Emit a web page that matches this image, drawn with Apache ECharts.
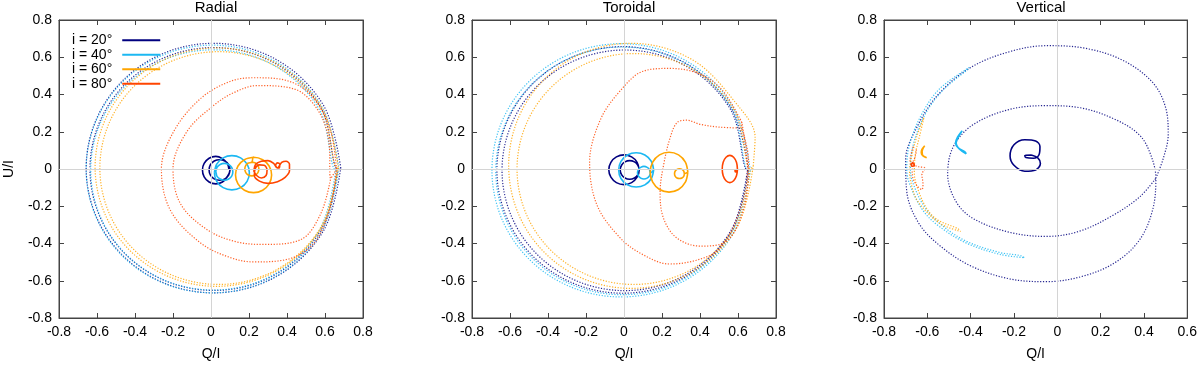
<!DOCTYPE html>
<html>
<head>
<meta charset="utf-8">
<script src="https://cdn.jsdelivr.net/npm/echarts@6/dist/echarts.min.js"></script>
<style>
  html, body { margin: 0; padding: 0; background: #fff; }
  #main { width: 1200px; height: 366px; }
</style>
</head>
<body>
<div id="main"></div>
<script>
var panelTitles = ['Radial', 'Toroidal', 'Vertical'];
var legendNames = ['i = 20°', 'i = 40°', 'i = 60°', 'i = 80°'];
var colors = ['#00007f', '#1cb8f2', '#ffa500', '#ff4500'];
var yTicks = [-0.8, -0.6, -0.4, -0.2, 0, 0.2, 0.4, 0.6, 0.8];
var xRange = [[-0.8, 0.8], [-0.8, 0.8], [-0.8, 0.6]];

// ---- Radial ----
var rad20 = [[0.095,-0.005],[0.086,0.03],[0.06,0.056],[0.025,0.068],[-0.01,0.058],[-0.036,0.03],[-0.045,-0.005],[-0.036,-0.042],[-0.01,-0.07],[0.025,-0.08],[0.06,-0.07],[0.086,-0.04],[0.1,-0.005],
  [0.093,0.023],[0.073,0.043],[0.045,0.05],[0.017,0.043],[-0.003,0.023],[-0.01,-0.005],[-0.003,-0.033],[0.017,-0.053],[0.045,-0.06],[0.073,-0.053],[0.093,-0.033],[0.1,-0.005]];
var rad40 = [[0.018,-0.02],[0.03,0.026],[0.064,0.06],[0.11,0.072],[0.156,0.06],[0.19,0.026],[0.202,-0.02],[0.19,-0.066],[0.156,-0.1],[0.11,-0.112],[0.064,-0.1],[0.03,-0.066],[0.018,-0.02],
  [0.025,-0.015],[0.031,-0.038],[0.048,-0.054],[0.07,-0.06],[0.093,-0.054],[0.109,-0.038],[0.115,-0.015],[0.109,0.008],[0.093,0.024],[0.07,0.03],[0.048,0.024],[0.031,0.008],[0.025,-0.015]];
var rad60 = [[0.224,0.063],[0.176,0.05],[0.142,0.016],[0.129,-0.032],[0.142,-0.08],[0.176,-0.114],[0.224,-0.127],[0.272,-0.114],[0.306,-0.08],[0.319,-0.032],[0.306,0.016],[0.272,0.05],[0.224,0.063],
  [0.215,0.037],[0.196,0.032],[0.183,0.019],[0.178,0],[0.183,-0.019],[0.196,-0.032],[0.215,-0.037],[0.234,-0.032],[0.247,-0.019],[0.252,0],[0.247,0.019],[0.234,0.032],[0.215,0.037]];
var rad80 = [[0.225,-0.01],[0.235,0.025],[0.265,0.042],[0.3,0.045],[0.33,0.03],[0.345,0.008],[0.36,0.006],[0.362,0.025],[0.35,0.033],[0.34,0.02],[0.35,0.006],[0.372,0.035],[0.395,0.042],[0.413,0.025],[0.413,-0.01],[0.39,-0.045],[0.35,-0.068],[0.3,-0.077],[0.255,-0.065],[0.228,-0.035],[0.232,0],[0.255,0.022],[0.28,0.02],[0.295,-0.005],[0.29,-0.035],[0.265,-0.048],[0.24,-0.035],[0.225,-0.01]];
var rad20Ring = [[0.683,0.005],[0.593,0.34],[0.348,0.585],[0.013,0.675],[-0.322,0.585],[-0.567,0.34],[-0.657,0.005],[-0.567,-0.33],[-0.322,-0.575],[0.013,-0.665],[0.348,-0.575],[0.593,-0.33],[0.683,0.005],
  [0.667,0],[0.58,0.326],[0.341,0.565],[0.015,0.652],[-0.311,0.565],[-0.55,0.326],[-0.637,0],[-0.55,-0.326],[-0.311,-0.565],[0.015,-0.652],[0.341,-0.565],[0.58,-0.326],[0.667,0]];
var rad40Ring = [[0.673,0],[0.584,0.333],[0.341,0.576],[0.008,0.665],[-0.325,0.576],[-0.568,0.333],[-0.657,0],[-0.568,-0.333],[-0.325,-0.576],[0.008,-0.665],[0.341,-0.576],[0.584,-0.333],[0.673,0],
  [0.657,-0.005],[0.571,0.318],[0.335,0.554],[0.012,0.64],[-0.311,0.554],[-0.547,0.318],[-0.633,-0.005],[-0.547,-0.328],[-0.311,-0.564],[0.012,-0.65],[0.335,-0.564],[0.571,-0.328],[0.657,-0.005]];
var rad60Ring = [[0.67,0.01],[0.584,0.33],[0.35,0.564],[0.03,0.65],[-0.29,0.564],[-0.524,0.33],[-0.61,0.01],[-0.524,-0.31],[-0.29,-0.544],[0.03,-0.63],[0.35,-0.544],[0.584,-0.31],[0.67,0.01],
  [0.665,0.005],[0.581,0.318],[0.353,0.546],[0.04,0.63],[-0.273,0.546],[-0.501,0.318],[-0.585,0.005],[-0.501,-0.308],[-0.273,-0.536],[0.04,-0.62],[0.353,-0.536],[0.581,-0.308],[0.665,0.005]];
var rad80Ring = [[0.66,0],[0.63,0.2],[0.543,0.378],[0.402,0.474],[0.226,0.49],[0.1,0.47],[-0.055,0.378],[-0.196,0.202],[-0.261,0],[-0.214,-0.221],[-0.055,-0.397],[0.1,-0.475],[0.226,-0.499],[0.402,-0.485],[0.543,-0.397],[0.63,-0.2],[0.66,0],
  [0.63,-0.05],[0.62,0.15],[0.56,0.32],[0.437,0.43],[0.244,0.448],[0.12,0.41],[0.015,0.342],[-0.126,0.202],[-0.2,0],[-0.161,-0.186],[-0.02,-0.326],[0.13,-0.39],[0.279,-0.405],[0.473,-0.379],[0.578,-0.239],[0.63,-0.05]];

// ---- Toroidal ----
var tor20 = [[0.08,-0.004],[0.069,0.036],[0.04,0.065],[0,0.076],[-0.04,0.065],[-0.069,0.036],[-0.08,-0.004],[-0.069,-0.044],[-0.04,-0.073],[0,-0.084],[0.04,-0.073],[0.069,-0.044],[0.08,-0.004],
  [0.073,0.02],[0.055,0.038],[0.03,0.045],[0.005,0.038],[-0.013,0.02],[-0.02,-0.005],[-0.013,-0.03],[0.005,-0.048],[0.03,-0.055],[0.055,-0.048],[0.073,-0.03],[0.08,-0.005]];
var tor40 = [[0.156,-0.005],[0.144,0.041],[0.11,0.075],[0.064,0.087],[0.018,0.075],[-0.016,0.041],[-0.028,-0.005],[-0.016,-0.051],[0.018,-0.085],[0.064,-0.097],[0.11,-0.085],[0.144,-0.051],[0.156,-0.005],
  [0.139,-0.02],[0.134,-0.003],[0.122,0.009],[0.105,0.014],[0.088,0.009],[0.076,-0.003],[0.071,-0.02],[0.076,-0.037],[0.088,-0.049],[0.105,-0.054],[0.122,-0.049],[0.134,-0.037],[0.139,-0.02]];
var tor60 = [[0.336,-0.017],[0.323,0.037],[0.287,0.076],[0.237,0.09],[0.187,0.076],[0.151,0.037],[0.138,-0.017],[0.151,-0.071],[0.187,-0.11],[0.237,-0.124],[0.287,-0.11],[0.323,-0.071],[0.336,-0.017],
  [0.318,-0.025],[0.315,-0.012],[0.305,-0.002],[0.292,0.001],[0.279,-0.002],[0.269,-0.012],[0.266,-0.025],[0.269,-0.038],[0.279,-0.048],[0.292,-0.051],[0.305,-0.048],[0.315,-0.038],[0.318,-0.025]];
var tor80 = [[0.597,0],[0.592,0.036],[0.577,0.063],[0.557,0.073],[0.537,0.063],[0.522,0.036],[0.517,0],[0.522,-0.036],[0.537,-0.063],[0.557,-0.073],[0.577,-0.063],[0.592,-0.036],[0.597,-0.005],[0.588,-0.016],[0.584,-0.008],[0.59,-0.002]];
var tor20Ring = [[0.655,-0.005],[0.566,0.326],[0.324,0.568],[-0.007,0.657],[-0.338,0.568],[-0.58,0.326],[-0.669,-0.005],[-0.58,-0.336],[-0.338,-0.578],[-0.007,-0.667],[0.324,-0.578],[0.566,-0.336],[0.655,-0.005],
  [0.65,-0.007],[0.563,0.316],[0.327,0.552],[0.004,0.639],[-0.319,0.552],[-0.555,0.316],[-0.642,-0.007],[-0.555,-0.33],[-0.319,-0.566],[0.004,-0.653],[0.327,-0.566],[0.563,-0.33],[0.65,-0.007]];
var tor40Ring = [[0.665,-0.007],[0.574,0.333],[0.325,0.582],[-0.015,0.673],[-0.355,0.582],[-0.604,0.333],[-0.695,-0.007],[-0.604,-0.347],[-0.355,-0.596],[-0.015,-0.687],[0.325,-0.596],[0.574,-0.347],[0.665,-0.007],
  [0.655,-0.01],[0.566,0.323],[0.323,0.566],[-0.01,0.655],[-0.343,0.566],[-0.586,0.323],[-0.675,-0.01],[-0.586,-0.343],[-0.343,-0.586],[-0.01,-0.675],[0.323,-0.586],[0.566,-0.343],[0.655,-0.01]];
var tor60Ring = [[0.68,0.017],[0.69,0.17],[0.595,0.346],[0.359,0.587],[0.037,0.675],[-0.285,0.587],[-0.521,0.346],[-0.607,0.017],[-0.521,-0.312],[-0.285,-0.553],[0.037,-0.641],[0.359,-0.553],[0.595,-0.312],[0.68,0.017],
  [0.665,0],[0.583,0.31],[0.358,0.537],[0.051,0.62],[-0.256,0.537],[-0.481,0.31],[-0.563,0],[-0.481,-0.31],[-0.256,-0.537],[0.051,-0.62],[0.358,-0.537],[0.583,-0.31],[0.665,0]];
var tor80Ring = [[0.62,0.25],[0.52,0.42],[0.4,0.51],[0.24,0.54],[0.1,0.525],[-0.019,0.421],[-0.125,0.263],[-0.181,0.034],[-0.142,-0.194],[-0.019,-0.371],[0.1,-0.46],[0.24,-0.51],[0.38,-0.49],[0.5,-0.43],[0.6,-0.25],[0.65,0],[0.62,0.25],
  [0.62,0.22],[0.5,0.225],[0.4,0.24],[0.33,0.262],[0.28,0.25],[0.245,0.175],[0.21,0.03],[0.19,-0.124],[0.208,-0.265],[0.279,-0.371],[0.402,-0.414],[0.524,-0.397],[0.6,-0.3],[0.65,-0.1],[0.655,0.05],[0.62,0.22]];

// ---- Vertical ----
var ver20 = [[-0.12,0.075],[-0.15,0.073],[-0.145,0.062],[-0.11,0.058],[-0.085,0.075],[-0.08,0.12],[-0.1,0.15],[-0.15,0.157],[-0.2,0.13],[-0.218,0.07],[-0.2,0.02],[-0.15,-0.012],[-0.1,-0.005],[-0.078,0.03],[-0.09,0.06],[-0.12,0.075]];
var ver40 = [[-0.439,0.205],[-0.455,0.175],[-0.467,0.14],[-0.455,0.11],[-0.421,0.082],[-0.425,0.09],[-0.458,0.115],[-0.47,0.14],[-0.46,0.172],[-0.443,0.2]];
var ver60 = [[-0.612,0.125],[-0.625,0.105],[-0.628,0.087],[-0.62,0.07],[-0.603,0.06],[-0.608,0.063],[-0.622,0.075],[-0.624,0.095],[-0.615,0.12]];
var ver80 = [[-0.672,0.035],[-0.662,0.03],[-0.66,0.018],[-0.67,0.015],[-0.675,0.025],[-0.668,0.03]];
var ver20Ring = [[0.455,-0.05],[0.49,0.06],[0.512,0.184],[0.5,0.33],[0.439,0.466],[0.3,0.585],[0.12,0.65],[-0.05,0.662],[-0.22,0.63],[-0.4,0.545],[-0.55,0.4],[-0.65,0.22],[-0.7,0.05],[-0.695,-0.12],[-0.64,-0.29],[-0.544,-0.41],[-0.4,-0.52],[-0.22,-0.59],[-0.05,-0.605],[0.12,-0.575],[0.27,-0.5],[0.38,-0.38],[0.44,-0.22],[0.455,-0.05],
  [0.43,0.08],[0.378,0.184],[0.26,0.27],[0.1,0.33],[-0.05,0.34],[-0.22,0.32],[-0.39,0.237],[-0.48,0.12],[-0.506,-0.027],[-0.47,-0.17],[-0.39,-0.265],[-0.22,-0.34],[-0.052,-0.362],[0.1,-0.335],[0.255,-0.25],[0.38,-0.15],[0.455,-0.05]];
var ver40Ring = [[-0.406,0.545],[-0.544,0.43],[-0.628,0.289],[-0.682,0.131],[-0.695,0],[-0.682,-0.08],[-0.621,-0.221],[-0.544,-0.309],[-0.421,-0.397],[-0.267,-0.458],[-0.152,-0.476],
  [-0.17,-0.465],[-0.27,-0.447],[-0.425,-0.385],[-0.54,-0.295],[-0.612,-0.205],[-0.665,-0.08],[-0.678,0],[-0.665,0.13],[-0.612,0.29],[-0.53,0.42],[-0.412,0.535]];
var ver60Ring = [[-0.616,0.275],[-0.65,0.17],[-0.675,0.05],[-0.682,-0.01],[-0.665,-0.12],[-0.636,-0.186],[-0.544,-0.291],[-0.447,-0.335],
  [-0.46,-0.32],[-0.55,-0.275],[-0.598,-0.221],[-0.64,-0.12],[-0.66,-0.02],[-0.655,0.08],[-0.635,0.18],[-0.616,0.275]];
var ver80Ring = [[-0.665,0.12],[-0.675,0.08],[-0.68,0.04],[-0.667,0.025],[-0.64,0.012],[-0.61,0.005],[-0.625,-0.03],[-0.62,-0.08],[-0.625,-0.11],[-0.648,-0.09],[-0.668,-0.04],[-0.67,0.02],[-0.655,0.07],[-0.65,0.11]];

var solid = [[rad20, rad40, rad60, rad80], [tor20, tor40, tor60, tor80], [ver20, ver40, ver60, ver80]];
var dotted = [[rad20Ring, rad40Ring, rad60Ring, rad80Ring], [tor20Ring, tor40Ring, tor60Ring, tor80Ring], [ver20Ring, ver40Ring, ver60Ring, ver80Ring]];

var gridLefts = [59, 472, 884];
var fontFam = '"Liberation Sans", Arial, sans-serif';

function tickFmt(v) {
  if (Math.abs(v) < 1e-9) return '0';
  return v.toFixed(1);
}

var grids = [], xAxes = [], yAxes = [], titles = [], series = [];
for (var g = 0; g < 3; g++) {
  grids.push({ left: gridLefts[g], top: 20, width: 304, height: 303, show: true, borderColor: '#444', borderWidth: 1 });
  titles.push({ text: panelTitles[g], left: gridLefts[g] + 152, top: -5, textAlign: 'center',
    textStyle: { fontSize: 15, fontWeight: 'normal', color: '#000', fontFamily: fontFam } });
  var axBase = function (extra) {
    return Object.assign({
      type: 'value', gridIndex: g, interval: 0.2,
      axisLine: { show: true, onZero: false, lineStyle: { color: '#444' } },
      axisTick: { show: true, inside: true, length: 5, lineStyle: { color: '#444' } },
      splitLine: { show: false }
    }, extra);
  };
  xAxes.push(axBase({ min: xRange[g][0], max: xRange[g][1], position: 'bottom',
    name: 'Q/I', nameLocation: 'middle', nameGap: 29,
    nameTextStyle: { fontSize: 14, color: '#000', fontFamily: fontFam },
    axisLabel: { formatter: tickFmt, fontSize: 14, color: '#000', margin: 7, fontFamily: fontFam } }));
  xAxes.push(axBase({ min: xRange[g][0], max: xRange[g][1], position: 'top', axisLabel: { show: false } }));
  yAxes.push(axBase({ min: yTicks[0], max: yTicks[yTicks.length - 1], position: 'left',
    name: g === 0 ? 'U/I' : '', nameLocation: 'middle', nameGap: 43,
    nameTextStyle: { fontSize: 14, color: '#000', fontFamily: fontFam },
    axisLabel: { formatter: tickFmt, fontSize: 14, color: '#000', margin: 7, fontFamily: fontFam } }));
  yAxes.push(axBase({ min: yTicks[0], max: yTicks[yTicks.length - 1], position: 'right', axisLabel: { show: false } }));

  // zero lines
  series.push({
    type: 'line', name: 'zero' + g, xAxisIndex: 2 * g, yAxisIndex: 2 * g, data: [], z: 1, silent: true,
    markLine: { silent: true, symbol: 'none', label: { show: false },
      lineStyle: { color: '#d4d4d4', type: 'solid', width: 1 },
      data: [{ xAxis: 0 }, { yAxis: 0 }] }
  });
}

// solid loops first so the legend picks their style
for (var k = 0; k < 4; k++) {
  for (var p = 0; p < 3; p++) {
    series.push({
      type: 'line', name: legendNames[k], xAxisIndex: 2 * p, yAxisIndex: 2 * p,
      data: solid[p][k], smooth: 0.35, showSymbol: false, symbol: 'none', z: 4,
      lineStyle: { color: colors[k], width: 1.6 }, itemStyle: { color: colors[k] }
    });
  }
}
for (var k2 = 0; k2 < 4; k2++) {
  for (var p2 = 0; p2 < 3; p2++) {
    series.push({
      type: 'line', name: legendNames[k2], xAxisIndex: 2 * p2, yAxisIndex: 2 * p2,
      data: dotted[p2][k2], smooth: 0.35, showSymbol: false, symbol: 'none', z: 3,
      lineStyle: { color: colors[k2], width: 1.2, type: [1.2, 1.6], opacity: 0.85 },
      itemStyle: { color: colors[k2] }
    });
  }
}

var myChart = echarts.init(document.getElementById('main'));
var option = {
  animation: false,
  title: titles,
  grid: grids,
  xAxis: xAxes,
  yAxis: yAxes,
  legend: {
    data: legendNames, orient: 'vertical', left: 67, top: 28, align: 'right',
    icon: 'rect', itemWidth: 38, itemHeight: 2, itemGap: 0,
    textStyle: { fontSize: 14, lineHeight: 14.5, color: '#000', fontFamily: fontFam, padding: [0, 5, 0, 0] }
  },
  series: series
};
myChart.setOption(option);
</script>
</body>
</html>
